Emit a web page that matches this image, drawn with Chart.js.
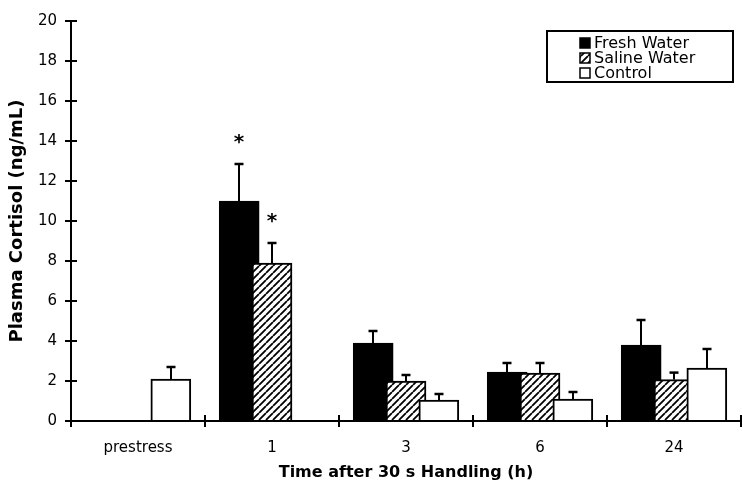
<!DOCTYPE html>
<html>
<head>
<meta charset="utf-8">
<script src="https://cdn.jsdelivr.net/npm/chart.js@4.4.0/dist/chart.umd.min.js"></script>
<style>
  html, body { margin: 0; padding: 0; background: #fff; }
  canvas { display: block; }
</style>
</head>
<body>
<canvas id="c" width="743" height="485"></canvas>
<script>
// ---- data ----
const categories = ['prestress', '1', '3', '6', '24'];
const seriesNames = ['Fresh Water', 'Saline Water', 'Control'];

// mean plasma cortisol (ng/mL)
const freshWater   = [null, 11.0, 3.9, 2.45, 3.8];
const salineWater  = [null, 7.9, 2.0, 2.4, 2.07];
const control      = [2.1, null, 1.05, 1.1, 2.65];

// upper end of the error bar (mean + SE)
const freshWaterErr  = [null, 12.85, 4.5, 2.9, 5.05];
const salineWaterErr = [null, 8.9, 2.3, 2.9, 2.42];
const controlErr     = [2.7, null, 1.35, 1.45, 3.6];

// significance markers (*)
const freshWaterSig  = [false, true, false, false, false];
const salineWaterSig = [false, true, false, false, false];
const controlSig     = [false, false, false, false, false];

const yMin = 0, yMax = 20, yStep = 2;

// ---- styling helpers ----
const FONT = '"DejaVu Sans", sans-serif';
Chart.defaults.font.family = FONT;
Chart.defaults.color = '#000';

const canvas = document.getElementById('c');
const ctx = canvas.getContext('2d');

function makeHatch() {
  const s = 7;
  const tile = document.createElement('canvas');
  tile.width = s; tile.height = s;
  const g = tile.getContext('2d');
  g.fillStyle = '#fff';
  g.fillRect(0, 0, s, s);
  g.strokeStyle = '#000';
  g.lineWidth = 1.8;
  g.beginPath();
  for (const k of [-s, 0, s]) { g.moveTo(k, s); g.lineTo(k + s, 0); }
  g.stroke();
  return ctx.createPattern(tile, 'repeat');
}
const hatch = makeHatch();

// horizontal position of each series inside a category (in category units)
const slot = [-0.245, 0, 0.245];

function toPoints(vals, errs, sigs, k) {
  const out = [];
  vals.forEach((v, i) => {
    if (v == null) return;
    out.push({ x: i + slot[k], y: v, err: errs[i], sig: sigs[i] });
  });
  return out;
}

const barCommon = {
  xAxisID: 'xb',
  yAxisID: 'y',
  grouped: false,
  barThickness: 40,
  borderColor: '#000',
  borderWidth: 2,
  borderSkipped: 'start'
};

const datasets = [
  Object.assign({ label: seriesNames[0], data: toPoints(freshWater, freshWaterErr, freshWaterSig, 0),
                  backgroundColor: '#000', order: 3 }, barCommon),
  Object.assign({ label: seriesNames[1], data: toPoints(salineWater, salineWaterErr, salineWaterSig, 1),
                  backgroundColor: hatch, order: 2 }, barCommon),
  Object.assign({ label: seriesNames[2], data: toPoints(control, controlErr, controlSig, 2),
                  backgroundColor: '#fff', order: 1 }, barCommon)
];

// error bars and significance stars
const errorBars = {
  id: 'errorBars',
  afterDatasetsDraw(chart) {
    const c = chart.ctx;
    const y = chart.scales.y;
    c.save();
    c.strokeStyle = '#000';
    c.fillStyle = '#000';
    chart.data.datasets.forEach((ds, di) => {
      const meta = chart.getDatasetMeta(di);
      meta.data.forEach((bar, j) => {
        const d = ds.data[j];
        if (d.err == null) return;
        const x = Math.round(bar.x);
        const yE = y.getPixelForValue(d.err);
        c.lineWidth = 2;
        c.beginPath();
        c.moveTo(x, bar.y);
        c.lineTo(x, yE);
        c.stroke();
        c.lineWidth = 2.5;
        c.beginPath();
        c.moveTo(x - 4.5, yE);
        c.lineTo(x + 4.5, yE);
        c.stroke();
        if (d.sig) {
          c.font = 'bold 20px ' + FONT;
          c.textAlign = 'center';
          c.textBaseline = 'middle';
          c.fillText('*', x, yE - 21);
        }
      });
    });
    c.restore();
  }
};

// tick marks that cross the axes (inside part)
const innerTicks = {
  id: 'innerTicks',
  afterDraw(chart) {
    const c = chart.ctx;
    const area = chart.chartArea;
    const y = chart.scales.y;
    const xb = chart.scales.xb;
    c.save();
    c.strokeStyle = '#000';
    c.lineWidth = 2;
    c.beginPath();
    y.ticks.forEach(t => {
      const py = Math.round(y.getPixelForValue(t.value));
      c.moveTo(area.left, py);
      c.lineTo(area.left + 6, py);
    });
    for (let i = 0; i <= categories.length; i++) {
      const px = Math.round(xb.getPixelForValue(i - 0.5));
      c.moveTo(px, area.bottom);
      c.lineTo(px, area.bottom - 6);
    }
    c.stroke();
    c.restore();
  }
};

// boxed legend in the upper right
const boxLegend = {
  id: 'boxLegend',
  afterDraw(chart) {
    const c = chart.ctx;
    const bx = 547, by = 31, bw = 186, bh = 51;
    c.save();
    c.strokeStyle = '#000';
    c.lineWidth = 2;
    c.strokeRect(bx, by, bw, bh);
    c.font = '16px ' + FONT;
    c.textAlign = 'left';
    c.textBaseline = 'middle';
    chart.data.datasets.forEach((ds, i) => {
      const cy = by + 12 + i * 15;
      c.fillStyle = ds.backgroundColor;
      c.fillRect(580, cy - 5, 10, 10);
      c.lineWidth = 1.5;
      c.strokeRect(580, cy - 5, 10, 10);
      c.fillStyle = '#000';
      c.fillText(ds.label, 594, cy + 1);
    });
    c.restore();
  }
};

new Chart(ctx, {
  type: 'bar',
  data: { labels: categories, datasets },
  options: {
    responsive: false,
    animation: false,
    devicePixelRatio: 1,
    layout: { padding: { top: 21, right: 2, left: 0, bottom: 0 } },
    plugins: { legend: { display: false }, tooltip: { enabled: false } },
    scales: {
      xb: {
        type: 'linear',
        axis: 'x',
        display: false,
        offset: false,
        min: -0.5,
        max: categories.length - 0.5
      },
      x: {
        type: 'category',
        axis: 'x',
        position: 'bottom',
        offset: true,
        z: 1,
        grid: { offset: true, drawOnChartArea: false, drawTicks: true, tickLength: 6, color: '#000', lineWidth: 2 },
        border: { display: true, color: '#000', width: 2 },
        ticks: { font: { size: 15 }, color: '#000', padding: 12, maxRotation: 0 },
        title: { display: true, text: 'Time after 30 s Handling (h)', color: '#000',
                 font: { size: 16, weight: 'bold' }, padding: { top: 0, bottom: 3 } },
        afterFit(s) { s.height = 64; }
      },
      y: {
        position: 'left',
        min: yMin,
        max: yMax,
        z: 1,
        grid: { drawOnChartArea: false, drawTicks: true, tickLength: 6, color: '#000', lineWidth: 2 },
        border: { display: true, color: '#000', width: 2 },
        ticks: { stepSize: yStep, font: { size: 15 }, color: '#000', padding: 8 },
        title: { display: true, text: 'Plasma Cortisol (ng/mL)', color: '#000',
                 font: { size: 18, weight: 'bold' }, padding: { top: 7, bottom: 0 } },
        afterFit(s) { s.width = 71; }
      }
    }
  },
  plugins: [errorBars, innerTicks, boxLegend]
});
</script>
</body>
</html>
